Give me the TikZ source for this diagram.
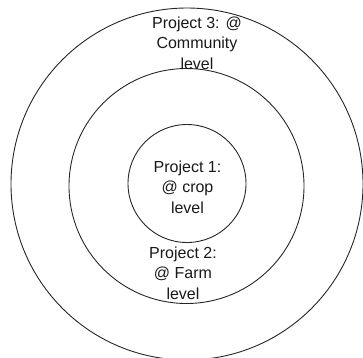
\documentclass[tikz,border=0pt]{standalone}
\usepackage{fontspec}
\setmainfont{Liberation Sans}
\begin{document}
\begin{tikzpicture}[x=1pt,y=-1pt,
  ring/.style={circle, draw=black!85, line width=0.9pt, inner sep=0pt},
  lbl/.style={align=center, font=\fontsize{16}{20.5}\selectfont, text=black!90, inner sep=0pt}]
\clip (0,0) rectangle (363,357);
\node[ring, minimum size=352pt] (outer) at (187,184) {};
\node[ring, minimum size=235pt] (middle) at (186.5,186) {};
\node[ring, minimum size=118pt] (inner) at (187,183.5) {};
\node[lbl] (p3) at (197,43) {Project 3: @\\Community\\level};
\node[lbl] (p1) at (187.5,187) {Project 1:\\@ crop\\level};
\node[lbl] (p2) at (183,273) {Project 2:\\@ Farm\\level};
\end{tikzpicture}
\end{document}
